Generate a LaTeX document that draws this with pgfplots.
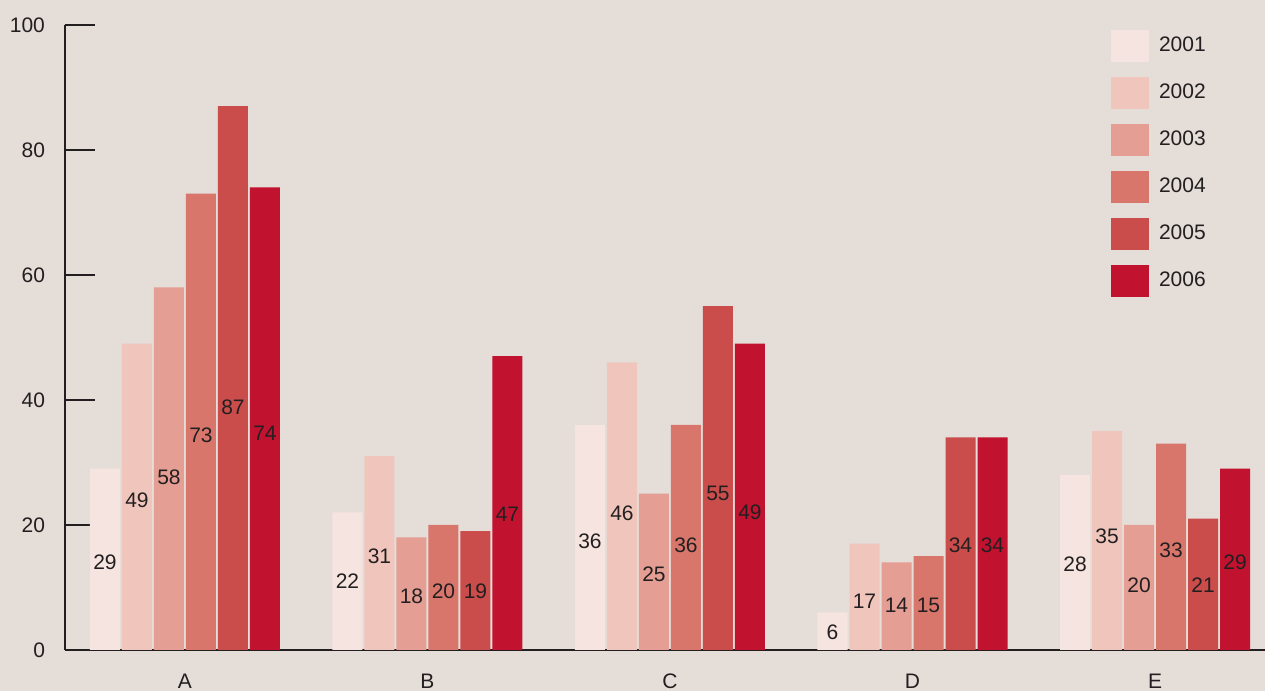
\documentclass[border=0pt]{standalone}
\usepackage{fontspec}
\setmainfont{Liberation Sans}
\usepackage{pgfplots}
\pgfplotsset{compat=1.18}
\usepackage{pgfplotstable}
\definecolor{bg}{HTML}{E4DDD8}
\definecolor{cA}{HTML}{F5E4DF}
\definecolor{cB}{HTML}{F0C6BC}
\definecolor{cC}{HTML}{E49E94}
\definecolor{cD}{HTML}{D8766C}
\definecolor{cE}{HTML}{CA4D4B}
\definecolor{cF}{HTML}{C11230}
\definecolor{ink}{HTML}{231F20}

\pgfplotstableread{
x y1 y2 y3 y4 y5 y6 l1 l2 l3 l4 l5 l6
0 29 49 58 73 87 74 14.1 23.9 27.6 34.4 38.9 34.7
1 22 31 18 20 19 47 11.0 15.0 8.6 9.4 9.4 21.7
2 36 46 25 36 55 49 17.4 21.8 12.1 16.8 25.0 22.0
3 6 17 14 15 34 34 2.9 7.8 7.1 7.1 16.7 16.7
4 28 35 20 33 21 29 13.7 18.2 10.3 16.0 10.3 14.1
}\data

\pgfplotsset{
  mybar/.style={fill=#1, draw=none,
    legend image code/.code={\fill[fill=#1,draw=none] (0pt,-8pt) rectangle (19pt,8pt);}},
}
\newcommand{\lblfont}{\fontsize{10.5}{12}\selectfont}

\begin{document}
\begin{tikzpicture}
\fill[bg] (-32.5pt,-20.5pt) rectangle (600pt,325pt);
\begin{axis}[
  scale only axis, width=600pt, height=312.5pt,
  xmin=-0.4948, xmax=4.4536, ymin=0, ymax=100,
  axis lines*=left,
  axis line style={line width=1pt, draw=ink},
  /pgf/number format/assume math mode=true,
  ybar=1pt, bar width=15pt,
  ytick={0,20,40,60,80,100},
  tick align=inside, major tick length=15pt,
  ytick style={line width=1pt, draw=ink},
  xtick={0,1,2,3,4}, xticklabels={A,B,C,D,E},
  xtick style={draw=none},
  yticklabel style={xshift=-6.5pt, font=\lblfont, text=ink},
  xticklabel style={yshift=-8.3pt, font=\lblfont, text=ink},
  nodes near coords,
  every node near coord/.append style={font=\lblfont, text=ink, anchor=center,
     shift={(axis direction cs:0,\dy)}},
  legend style={draw=none, fill=none, at={(0.8717,0.992)}, anchor=north west,
     inner sep=0pt, outer sep=0pt, row sep=7.5pt, font=\lblfont, text=ink,
     /tikz/every odd column/.append style={column sep=5pt},
     nodes={inner sep=0pt}},
  legend cell align=left,
]
\addplot[mybar=cA, visualization depends on={\thisrow{l1}-\thisrow{y1} \as \dy}] table[x=x,y=y1]{\data};
\addplot[mybar=cB, visualization depends on={\thisrow{l2}-\thisrow{y2} \as \dy}] table[x=x,y=y2]{\data};
\addplot[mybar=cC, visualization depends on={\thisrow{l3}-\thisrow{y3} \as \dy}] table[x=x,y=y3]{\data};
\addplot[mybar=cD, visualization depends on={\thisrow{l4}-\thisrow{y4} \as \dy}] table[x=x,y=y4]{\data};
\addplot[mybar=cE, visualization depends on={\thisrow{l5}-\thisrow{y5} \as \dy}] table[x=x,y=y5]{\data};
\addplot[mybar=cF, visualization depends on={\thisrow{l6}-\thisrow{y6} \as \dy}] table[x=x,y=y6]{\data};
\legend{2001,2002,2003,2004,2005,2006}
\end{axis}
\pgfresetboundingbox
\useasboundingbox (-32.5pt,-20.5pt) rectangle (600pt,325pt);
\end{tikzpicture}
\end{document}
